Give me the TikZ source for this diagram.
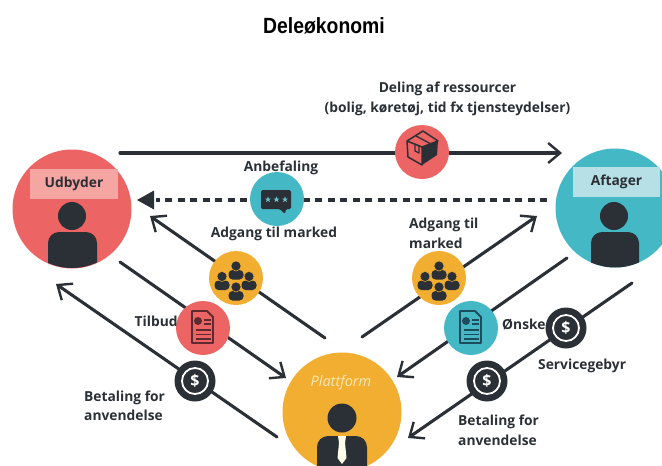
\documentclass[tikz,border=0pt]{standalone}
\usepackage{fontspec}
\setmainfont{Open Sans}
\newfontfamily\titlefont[FakeStretch=0.88]{Liberation Sans}
\usetikzlibrary{arrows.meta}
\definecolor{ink}{HTML}{2B3036}
\definecolor{redc}{HTML}{EC6464}
\definecolor{tealc}{HTML}{45B8C6}
\definecolor{yellowc}{HTML}{F2AE30}
\definecolor{pinkc}{HTML}{F5A5A2}
\definecolor{paleblue}{HTML}{B7DFE6}
\definecolor{docred}{HTML}{5E2A30}
\definecolor{docteal}{HTML}{1D4C5C}
\definecolor{paleyellow}{HTML}{FCE9B8}
\tikzset{
  lbl/.style={font=\fontsize{13.8}{19.5}\selectfont\bfseries,text=ink,inner sep=0pt,align=left},
  flow/.style={draw=ink,line width=3.1pt,line cap=round,-{Straight Barb[length=12pt,width=20pt,line width=2.4pt]}},
  hub/.style={circle,fill=#1,minimum size=54pt,inner sep=0pt},
  coin/.style={circle,fill=ink,minimum size=41pt,inner sep=0pt},
  actor/.style={circle,fill=#1,minimum size=119pt,inner sep=0pt},
  tag/.style={fill=#1,inner sep=0pt,font=\fontsize{13.8}{16}\selectfont\bfseries,text=ink},
  pics/docicon/.style={code={
    \draw[#1,line width=1.8pt,line join=round] (-11,-17) -- (4,-17) -- (10,-11) -- (10,15) -- (-11,15) -- cycle;
    \fill[#1] (-5,-7) circle (4);
    \draw[#1,line width=1.5pt] (1,-8) -- (8,-8) (1,-4) -- (8,-4) (-7,2) -- (8,2) (-7,6.5) -- (8,6.5) (-7,11) -- (8,11);
  }},
  pics/smallperson/.style={code={
    \fill[ink,rounded corners=4pt] (-7.5,9.5) -- (-7.5,0) -- (7.5,0) -- (7.5,9.5) -- cycle;
    \fill[ink,draw=yellowc,line width=.5pt] (0,-4) circle (5);
  }},
  pics/dollaricon/.style={code={
    \draw[white,line width=1.8pt] (0,0) circle (13);
  }},
  pics/staricon/.style={code={
    \fill[tealc!80!white] (270:3.2) -- (54:3.2) -- (198:3.2) -- (342:3.2) -- (126:3.2) -- cycle;
  }}
}
\begin{document}
\begin{tikzpicture}[x=1pt,y=-1pt]
\useasboundingbox (0,0) rectangle (662,466);
\clip (0,0) rectangle (662,466);
% free connector ends
\coordinate (topA) at (120,153);   \coordinate (topB) at (562,153);
\coordinate (dashA) at (547,200);  \coordinate (dashB) at (137,200);
\coordinate (mlA) at (325,338);    \coordinate (mlB) at (150,216);
\coordinate (tbA) at (120,262);    \coordinate (tbB) at (286,378);
\coordinate (plA) at (277,437);    \coordinate (plB) at (56,284);
\coordinate (mrA) at (362,337);    \coordinate (mrB) at (537,216);
\coordinate (onA) at (567,258);    \coordinate (onB) at (397,377);
\coordinate (prA) at (632,283);    \coordinate (prB) at (408,438);
% connectors
\draw[flow] (topA) -- (topB);
\draw[ink,line width=3.2pt,dash pattern=on 7pt off 5.5pt] (dashA) -- ([xshift=19pt]dashB);
\fill[ink] (dashB) -- ++(17,-9.5) -- ++(0,19) -- cycle;
\draw[flow] (mlA) -- (mlB);
\draw[flow] (tbA) -- (tbB);
\draw[flow] (plA) -- (plB);
\draw[flow] (mrA) -- (mrB);
\draw[flow] (onA) -- (onB);
\draw[flow] (prA) -- (prB);
% actors
\node[actor=redc] (udbyder) at (72,209) {};
\node[actor=tealc] (aftager) at (615,208) {};
\node[actor=yellowc] (platform) at (342,412) {};
\node[tag=pinkc,minimum width=88pt,minimum height=30pt] (udtag) at (74,184) {Udbyder};
\node[tag=paleblue,minimum width=87pt,minimum height=30pt] (aftag) at (616.5,182) {Aftager};
\node[inner sep=0pt,text=paleyellow,font=\fontsize{14.5}{16}\selectfont\itshape] (platname) at (341,382.5) {Plattform};
% actor figures
\fill[ink] (72,216) circle (14);
\begin{scope}
  \clip (72,209) circle (59);
  \fill[ink,rounded corners=11pt] (48,285) -- (48,232) -- (97,232) -- (97,285) -- cycle;
\end{scope}
\fill[ink] (614,216) circle (14);
\begin{scope}
  \clip (615,208) circle (59.5);
  \fill[ink,rounded corners=11pt] (591,285) -- (591,232) -- (639,232) -- (639,285) -- cycle;
\end{scope}
\fill[ink] (342,418) circle (14.5);
\fill[ink,rounded corners=11pt] (317,490) -- (317,436) -- (367,436) -- (367,490) -- cycle;
\fill[white!92!yellow] (338,436) -- (346,436) -- (345,443) -- (346.5,458) -- (342,464) -- (337.5,458) -- (339,443) -- cycle;
% hubs
\node[hub=redc] (boxhub) at (422,152) {};
\node[hub=tealc] (ratehub) at (277,199) {};
\node[hub=yellowc] (grpL) at (236,278) {};
\node[hub=yellowc] (grpR) at (439,278) {};
\node[hub=redc] (docL) at (203,328) {};
\node[hub=tealc] (docR) at (471,328) {};
\node[coin] (coinL) at (195,381) {};
\node[coin] (coinR1) at (566,328) {};
\node[coin] (coinR2) at (487,381) {};
% box icon
\begin{scope}[shift={(boxhub.center)}]
  \fill[ink] (0,-5) -- (16,-11) -- (15,3) -- (0,13) -- cycle;
  \draw[ink,line width=1.5pt,line join=round] (-15,-11) -- (1,-21) -- (16,-11) -- (0,-5) -- cycle (-15,-11) -- (-14,5) -- (0,13) -- (0,-5);
  \draw[ink,line width=1.3pt,line join=round] (-6,-16) -- (9,-8) (-7,-8) -- (-7,-1) -- (-3,1) -- (-3,-6.5);
\end{scope}
% rating icon
\begin{scope}[shift={(ratehub.center)}]
  \fill[ink,rounded corners=1.5pt] (-16,-9) -- (14,-9) -- (14,10) -- (9,10) -- (8,15) -- (3,10) -- (-16,10) -- cycle;
  \pic at (-9,0.5) {staricon};
  \pic at (-0.5,0.5) {staricon};
  \pic at (8,0.5) {staricon};
\end{scope}
% group icons
\foreach \h in {grpL,grpR}{
  \begin{scope}[shift={(\h.center)}]
    \pic at (-14,2.5) {smallperson};
    \pic at (13,2.5) {smallperson};
    \pic at (0,-8) {smallperson};
    \pic at (0,13) {smallperson};
  \end{scope}
}
% document icons
\pic at (docL.center) {docicon=docred};
\pic at (docR.center) {docicon=docteal};
% coin icons
\node[inner sep=0pt,text=white,font=\fontsize{16}{18}\selectfont\bfseries] (dL) at (coinL.center) {\$};
\node[inner sep=0pt,text=white,font=\fontsize{16}{18}\selectfont\bfseries] (dR1) at (coinR1.center) {\$};
\node[inner sep=0pt,text=white,font=\fontsize{16}{18}\selectfont\bfseries] (dR2) at (coinR2.center) {\$};
\pic at (coinL.center) {dollaricon};
\pic at (coinR1.center) {dollaricon};
\pic at (coinR2.center) {dollaricon};
% labels
\node[inner sep=0pt,text=black,font=\titlefont\bfseries\fontsize{22}{26}\selectfont] (title) at (324,26) {Deleøkonomi};
\node[lbl,align=center] (deling) at (447.5,99) {Deling af ressourcer\\(bolig, køretøj, tid fx tjensteydelser)};
\node[lbl] (anb) at (281,167.5) {Anbefaling};
\node[lbl] (adgL) at (274,233.5) {Adgang til marked};
\node[lbl,anchor=west] (adgR) at (409,233.5) {Adgang til\\marked};
\node[lbl,anchor=west] (tilbud) at (134.5,321) {Tilbud};
\node[lbl,anchor=west] (onske) at (502,325) {Ønske};
\node[lbl,anchor=west] (service) at (538,365.5) {Servicegebyr};
\node[lbl,anchor=west] (betL) at (84,406) {Betaling for\\anvendelse};
\node[lbl,anchor=west] (betR) at (458,430.5) {Betaling for\\anvendelse};
\end{tikzpicture}
\end{document}
